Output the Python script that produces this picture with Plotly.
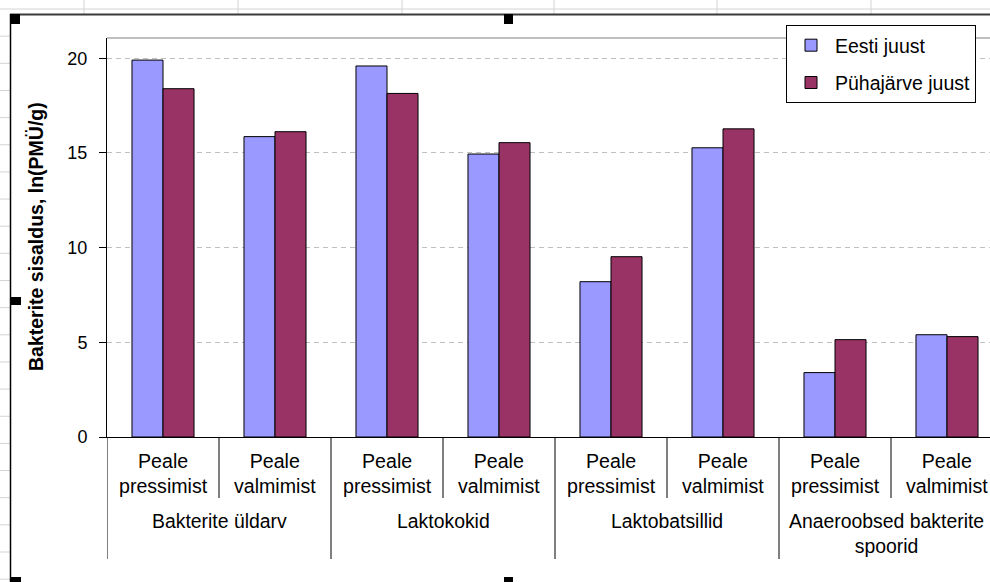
import plotly.graph_objects as go

# ---------------- data ----------------
groups = ["Bakterite üldarv", "Laktokokid", "Laktobatsillid", "Anaeroobsed bakterite<br>spoorid"]
stages = ["Peale<br>pressimist", "Peale<br>valmimist"]
series_names = ["Eesti juust", "Pühajärve juust"]
eesti_values = [19.9, 15.86, 19.59, 14.94, 8.2, 15.27, 3.4, 5.4]
puhajarve_values = [18.39, 16.12, 18.14, 15.54, 9.52, 16.27, 5.14, 5.3]
y_ticks = [0, 5, 10, 15, 20]
y_title = "Bakterite sisaldus, ln(PMÜ/g)"

categories = [f"{g} | {s}" for g in groups for s in stages]

# ---------------- geometry helpers (pixels -> paper) ----------------
FIG_W, FIG_H = 990, 582
L, R, T, B = 107, 990, 38, 437
W, H = R - L, B - T


def xp(px):
    return (px - L) / W


def yp(py):
    return (B - py) / H


FONT = "Arial, Liberation Sans, sans-serif"

fig = go.Figure()
fig.add_trace(go.Bar(
    x=categories, y=eesti_values, name=series_names[0], legendgroup="a",
    marker=dict(color="#9999ff", line=dict(color="black", width=1)),
))
fig.add_trace(go.Bar(
    x=categories, y=puhajarve_values, name=series_names[1], legendgroup="b",
    marker=dict(color="#993366", line=dict(color="black", width=1)),
))

n_cat = len(categories)
x_end = -0.5 + W / 112.0

shapes = []
grid_col = "#d4d4d4"
# spreadsheet cell grid in the background
shapes.append(dict(type="line", xref="paper", yref="paper", x0=xp(0), x1=xp(990), y0=yp(9), y1=yp(9),
                   line=dict(color=grid_col, width=1), layer="below"))
for gx in [84, 238, 402, 554, 717, 871]:
    shapes.append(dict(type="line", xref="paper", yref="paper", x0=xp(gx), x1=xp(gx), y0=yp(0), y1=yp(14),
                       line=dict(color=grid_col, width=1), layer="below"))
for k in range(1, 22):
    gy = 9 + k * 27.15
    shapes.append(dict(type="line", xref="paper", yref="paper", x0=xp(0), x1=xp(10), y0=yp(gy), y1=yp(gy),
                       line=dict(color=grid_col, width=1), layer="below"))
# chart area border
shapes.append(dict(type="line", xref="paper", yref="paper", x0=xp(10), x1=xp(990), y0=yp(14.5), y1=yp(14.5),
                   line=dict(color="#3a3a3a", width=2)))
shapes.append(dict(type="line", xref="paper", yref="paper", x0=xp(10.5), x1=xp(10.5), y0=yp(14), y1=yp(582),
                   line=dict(color="black", width=1.5)))
# selection handles
for hx, hy, hw, hh in [(10, 14, 10, 10), (504, 14, 9, 10), (11, 297, 10, 8), (10, 577, 11, 6), (504, 577, 9, 6)]:
    shapes.append(dict(type="rect", xref="paper", yref="paper", x0=xp(hx), x1=xp(hx + hw), y0=yp(hy), y1=yp(hy + hh),
                       fillcolor="black", line=dict(width=0)))
# plot area top border
shapes.append(dict(type="line", xref="paper", yref="paper", x0=0, x1=1, y0=1, y1=1,
                   line=dict(color="#808080", width=1)))
# category dividers below the axis
for i in range(n_cat + 1):
    bx = i - 0.5
    long_div = (i % 2 == 0)
    shapes.append(dict(type="line", xref="x", yref="paper", x0=bx, x1=bx, y0=0,
                       y1=yp(559 if long_div else 498), line=dict(color="black", width=1)))

annotations = []
for i, c in enumerate(categories):
    annotations.append(dict(x=i, y=yp(473), xref="x", yref="paper", text=stages[i % 2], showarrow=False,
                            xanchor="center", yanchor="middle", font=dict(family=FONT, size=19.6, color="black")))
for gi, g in enumerate(groups):
    two_line = "<br>" in g
    annotations.append(dict(x=gi * 2 + 0.5 - (0.04 if two_line else 0), y=yp(533.5 if two_line else 521),
                            xref="x", yref="paper", text=g,
                            showarrow=False, xanchor="center", yanchor="middle",
                            font=dict(family=FONT, size=19.4, color="black")))
annotations.append(dict(x=xp(36), y=yp(237), xref="paper", yref="paper", text="<b>" + y_title + "</b>",
                        textangle=-90, showarrow=False, xanchor="center", yanchor="middle",
                        font=dict(family=FONT, size=19.5, color="black")))

fig.update_layout(
    width=FIG_W, height=FIG_H,
    margin=dict(l=L, r=FIG_W - R, t=T, b=FIG_H - B, pad=0),
    paper_bgcolor="white", plot_bgcolor="white",
    barmode="group", bargap=0.446, bargroupgap=0,
    font=dict(family=FONT, size=18, color="black"),
    showlegend=True,
    legend=dict(x=xp(786), y=yp(25), xanchor="left", yanchor="top", bgcolor="white",
                bordercolor="black", borderwidth=1, font=dict(family=FONT, size=19.5, color="black"),
                tracegroupgap=9, traceorder="grouped", itemwidth=38),
    shapes=shapes, annotations=annotations,
    xaxis=dict(range=[-0.5, x_end], showticklabels=False, ticks="", showgrid=False, zeroline=False,
               showline=True, linecolor="black", linewidth=1, fixedrange=True),
    yaxis=dict(range=[0, H / 18.94], tickvals=y_ticks, ticks="outside", ticklen=7, tickcolor="black",
               tickwidth=1, showline=True, linecolor="black", linewidth=1, showgrid=True,
               gridcolor="#c0c0c0", griddash="5px,4px", gridwidth=1, zeroline=False,
               ticklabelstandoff=8, tickfont=dict(family=FONT, size=18, color="black"), fixedrange=True),
)

fig.write_html("out.html", config={"displayModeBar": False},
               post_script="document.body.style.margin='0px';")
